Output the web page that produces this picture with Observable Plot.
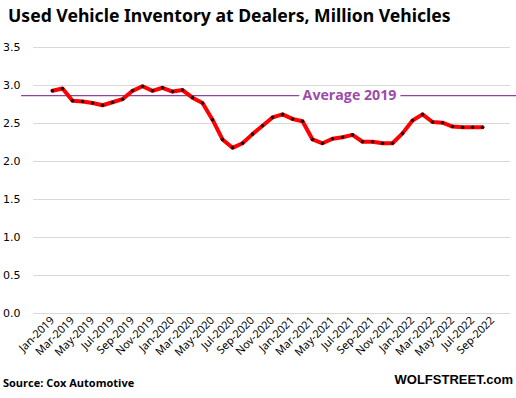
<!DOCTYPE html>
<html>
<head>
<meta charset="utf-8">
<script src="https://cdn.jsdelivr.net/npm/d3@7"></script>
<script src="https://cdn.jsdelivr.net/npm/@observablehq/plot@0.6"></script>
<style>
  body { margin: 0; background: #fff; }
  #wrap { position: relative; width: 516px; height: 398px; overflow: hidden; background: #fff; }
  #title { position: absolute; left: 8px; top: 3px; font-family: "Noto Sans", sans-serif; font-weight: bold; font-size: 17.6px; color: #000; white-space: nowrap; }
  #source { position: absolute; left: 3px; top: 375px; font-family: "Open Sans", sans-serif; font-weight: bold; font-size: 11px; color: #000; white-space: nowrap; }
  #brand { position: absolute; right: 3px; top: 372px; font-family: "Liberation Sans", sans-serif; font-weight: bold; font-size: 13px; color: #000; white-space: nowrap; }
  #chart { position: absolute; left: 0; top: 0; }
</style>
</head>
<body>
<div id="wrap">
  <div id="chart"></div>
  <div id="title">Used Vehicle Inventory at Dealers, Million Vehicles</div>
  <div id="source">Source: Cox Automotive</div>
  <div id="brand">WOLFSTREET.com</div>
</div>
<script>
const monthNames = ["Jan","Feb","Mar","Apr","May","Jun","Jul","Aug","Sep","Oct","Nov","Dec"];
const years = [2019, 2020, 2021, 2022];
// Axis categories: Jan-2019 .. Sep-2022
const months = [];
for (const y of years) for (const m of monthNames) months.push(`${m}-${y}`);
months.splice(months.indexOf("Sep-2022") + 1);

// Used vehicle inventory (million), Jan-2019 .. Aug-2022
const inventory = [
  2.93, 2.96, 2.80, 2.79, 2.77, 2.74, 2.78, 2.82, 2.93, 2.99, 2.93, 2.97,
  2.92, 2.94, 2.84, 2.77, 2.55, 2.29, 2.18, 2.24, 2.36, 2.47, 2.58, 2.62,
  2.56, 2.53, 2.29, 2.24, 2.30, 2.32, 2.35, 2.26, 2.26, 2.24, 2.24, 2.37,
  2.54, 2.62, 2.52, 2.51, 2.46, 2.45, 2.45, 2.45
];
const yTicks = [0, 0.5, 1.0, 1.5, 2.0, 2.5, 3.0, 3.5];
const xTicks = months.filter((d, i) => i % 2 === 0);
const avgLabel = "Average 2019";

const data = inventory.map((v, i) => ({month: months[i], value: v}));
const avg2019 = d3.mean(data.filter(d => d.month.endsWith("2019")), d => d.value);

const chart = Plot.plot({
  width: 516,
  height: 398,
  marginTop: 47,
  marginBottom: 85,
  marginLeft: 33,
  marginRight: 6,
  style: {fontFamily: "DejaVu Sans, sans-serif", fontSize: "11px", background: "white", color: "#000"},
  x: {type: "point", domain: months, padding: 0.5, align: 0.5, label: null},
  y: {domain: [0, 3.5], label: null},
  marks: [
    Plot.ruleY([avg2019], {stroke: "#8e44a0", strokeWidth: 1.3, insetLeft: -12, insetRight: -6}),
    Plot.text([avgLabel], {x: () => "Jun-2021", y: () => avg2019, text: d => d, dx: 7, fill: "#9c4cac", stroke: "white", strokeWidth: 9, fontWeight: "bold", fontSize: 14.2, fontFamily: "Open Sans, sans-serif"}),
    Plot.gridY(yTicks, {stroke: "#d9d9d9", strokeOpacity: 1, strokeWidth: 1}),
    Plot.axisY(yTicks, {tickSize: 0, tickPadding: 13, tickFormat: d3.format(".1f"), fontSize: 11, label: null}),
    Plot.axisX(xTicks, {tickSize: 0, tickPadding: 5, tickRotate: -45, fontSize: 11, fontFamily: "Noto Sans, sans-serif", label: null}),
    Plot.line(data, {x: "month", y: "value", stroke: "#ff0000", strokeWidth: 4, strokeLinejoin: "round"}),
    Plot.dot(data, {x: "month", y: "value", r: 1.8, fill: "#111", stroke: "none"})
  ]
});
document.getElementById("chart").appendChild(chart);
</script>
</body>
</html>
